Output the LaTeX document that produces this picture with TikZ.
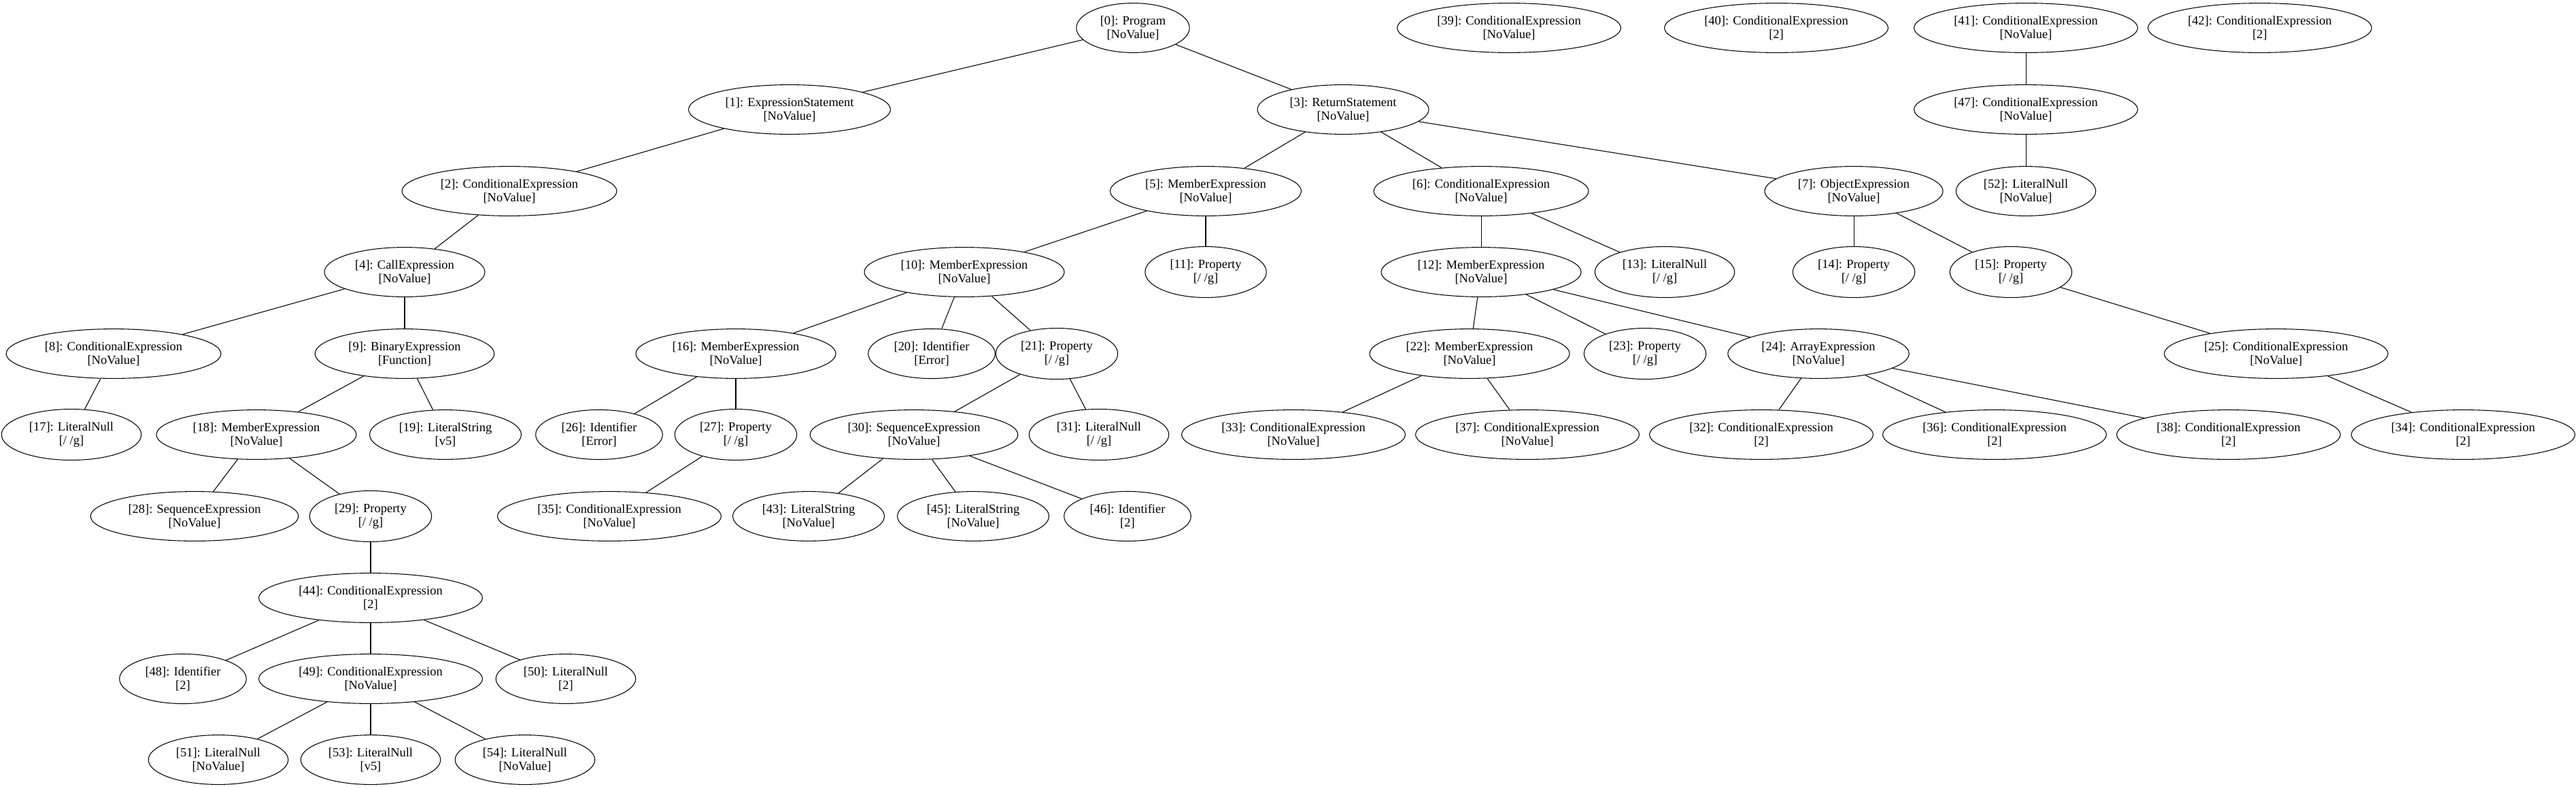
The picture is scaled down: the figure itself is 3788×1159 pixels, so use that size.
\documentclass[tikz,border=0pt]{standalone}
\usepackage{fontspec}
\setmainfont{Liberation Serif}
\usetikzlibrary{shapes.geometric}
\begin{document}
\begin{tikzpicture}[x=0.7576pt, y=-0.7576pt,
      astnode/.style={ellipse, draw, line width=.8pt, align=center, inner xsep=8pt, inner ysep=6pt,
        font=\fontsize{14}{15.4}\selectfont},
      astedge/.style={line width=.8pt}]
      \useasboundingbox(0, 0) rectangle (3788, 1159);

      \node[astnode] at(1666, 41)(n0){[0]: Program\\{}[NoValue]};
      \node[astnode] at(2219, 41)(n39){[39]: ConditionalExpression\\{}[NoValue]};
      \node[astnode] at(2612, 41)(n40){[40]: ConditionalExpression\\{}[2]};
      \node[astnode] at(2979, 41)(n41){[41]: ConditionalExpression\\{}[NoValue]};
      \node[astnode] at(3323, 41)(n42){[42]: ConditionalExpression\\{}[2]};

      \node[astnode] at(1161, 161)(n1){[1]: ExpressionStatement\\{}[NoValue]};
      \node[astnode] at(1975, 161)(n3){[3]: ReturnStatement\\{}[NoValue]};
      \node[astnode] at(2979, 161)(n47){[47]: ConditionalExpression\\{}[NoValue]};

      \node[astnode] at(749, 281)(n2){[2]: ConditionalExpression\\{}[NoValue]};
      \node[astnode] at(1773, 281)(n5){[5]: MemberExpression\\{}[NoValue]};
      \node[astnode] at(2178, 281)(n6){[6]: ConditionalExpression\\{}[NoValue]};
      \node[astnode] at(2726, 281)(n7){[7]: ObjectExpression\\{}[NoValue]};
      \node[astnode] at(2979, 281)(n52){[52]: LiteralNull\\{}[NoValue]};

      \node[astnode] at(595, 400)(n4){[4]: CallExpression\\{}[NoValue]};
      \node[astnode] at(1418, 400)(n10){[10]: MemberExpression\\{}[NoValue]};
      \node[astnode] at(1773, 400)(n11){[11]: Property\\{}[/ /g]};
      \node[astnode] at(2178, 400)(n12){[12]: MemberExpression\\{}[NoValue]};
      \node[astnode] at(2448, 400)(n13){[13]: LiteralNull\\{}[/ /g]};
      \node[astnode] at(2726, 400)(n14){[14]: Property\\{}[/ /g]};
      \node[astnode] at(2957, 400)(n15){[15]: Property\\{}[/ /g]};

      \node[astnode] at(167, 520)(n8){[8]: ConditionalExpression\\{}[NoValue]};
      \node[astnode] at(595, 520)(n9){[9]: BinaryExpression\\{}[Function]};
      \node[astnode] at(1082, 520)(n16){[16]: MemberExpression\\{}[NoValue]};
      \node[astnode] at(1370, 520)(n20){[20]: Identifier\\{}[Error]};
      \node[astnode] at(1554, 520)(n21){[21]: Property\\{}[/ /g]};
      \node[astnode] at(2161, 520)(n22){[22]: MemberExpression\\{}[NoValue]};
      \node[astnode] at(2419, 520)(n23){[23]: Property\\{}[/ /g]};
      \node[astnode] at(2674, 520)(n24){[24]: ArrayExpression\\{}[NoValue]};
      \node[astnode] at(3347, 520)(n25){[25]: ConditionalExpression\\{}[NoValue]};

      \node[astnode] at(105, 639)(n17){[17]: LiteralNull\\{}[/ /g]};
      \node[astnode] at(377, 639)(n18){[18]: MemberExpression\\{}[NoValue]};
      \node[astnode] at(655, 639)(n19){[19]: LiteralString\\{}[v5]};
      \node[astnode] at(881, 639)(n26){[26]: Identifier\\{}[Error]};
      \node[astnode] at(1082, 639)(n27){[27]: Property\\{}[/ /g]};
      \node[astnode] at(1344, 639)(n30){[30]: SequenceExpression\\{}[NoValue]};
      \node[astnode] at(1616, 639)(n31){[31]: LiteralNull\\{}[/ /g]};
      \node[astnode] at(1902, 639)(n33){[33]: ConditionalExpression\\{}[NoValue]};
      \node[astnode] at(2246, 639)(n37){[37]: ConditionalExpression\\{}[NoValue]};
      \node[astnode] at(2590, 639)(n32){[32]: ConditionalExpression\\{}[2]};
      \node[astnode] at(2933, 639)(n36){[36]: ConditionalExpression\\{}[2]};
      \node[astnode] at(3277, 639)(n38){[38]: ConditionalExpression\\{}[2]};
      \node[astnode] at(3622, 639)(n34){[34]: ConditionalExpression\\{}[2]};

      \node[astnode] at(286, 759)(n28){[28]: SequenceExpression\\{}[NoValue]};
      \node[astnode] at(545, 759)(n29){[29]: Property\\{}[/ /g]};
      \node[astnode] at(896, 759)(n35){[35]: ConditionalExpression\\{}[NoValue]};
      \node[astnode] at(1189, 759)(n43){[43]: LiteralString\\{}[NoValue]};
      \node[astnode] at(1431, 759)(n45){[45]: LiteralString\\{}[NoValue]};
      \node[astnode] at(1658, 759)(n46){[46]: Identifier\\{}[2]};

      \node[astnode] at(545, 879)(n44){[44]: ConditionalExpression\\{}[2]};

      \node[astnode] at(269, 998)(n48){[48]: Identifier\\{}[2]};
      \node[astnode] at(545, 998)(n49){[49]: ConditionalExpression\\{}[NoValue]};
      \node[astnode] at(832, 998)(n50){[50]: LiteralNull\\{}[2]};

      \node[astnode] at(321, 1117)(n51){[51]: LiteralNull\\{}[NoValue]};
      \node[astnode] at(545, 1117)(n53){[53]: LiteralNull\\{}[v5]};
      \node[astnode] at(772, 1117)(n54){[54]: LiteralNull\\{}[NoValue]};

      \draw[astedge](n0) to (n1);
      \draw[astedge](n0) to (n3);
      \draw[astedge](n1) to (n2);
      \draw[astedge](n2) to (n4);
      \draw[astedge](n4) to (n8);
      \draw[astedge](n4) to (n9);
      \draw[astedge](n8) to (n17);
      \draw[astedge](n9) to (n18);
      \draw[astedge](n9) to (n19);
      \draw[astedge](n18) to (n28);
      \draw[astedge](n18) to (n29);
      \draw[astedge](n29) to (n44);
      \draw[astedge](n44) to (n48);
      \draw[astedge](n44) to (n49);
      \draw[astedge](n44) to (n50);
      \draw[astedge](n49) to (n51);
      \draw[astedge](n49) to (n53);
      \draw[astedge](n49) to (n54);
      \draw[astedge](n3) to (n5);
      \draw[astedge](n3) to (n6);
      \draw[astedge](n3) to (n7);
      \draw[astedge](n5) to (n10);
      \draw[astedge](n5) to (n11);
      \draw[astedge](n10) to (n16);
      \draw[astedge](n10) to (n20);
      \draw[astedge](n10) to (n21);
      \draw[astedge](n16) to (n26);
      \draw[astedge](n16) to (n27);
      \draw[astedge](n27) to (n35);
      \draw[astedge](n21) to (n30);
      \draw[astedge](n21) to (n31);
      \draw[astedge](n30) to (n43);
      \draw[astedge](n30) to (n45);
      \draw[astedge](n30) to (n46);
      \draw[astedge](n6) to (n12);
      \draw[astedge](n6) to (n13);
      \draw[astedge](n12) to (n22);
      \draw[astedge](n12) to (n23);
      \draw[astedge](n12) to (n24);
      \draw[astedge](n22) to (n33);
      \draw[astedge](n22) to (n37);
      \draw[astedge](n24) to (n32);
      \draw[astedge](n24) to (n36);
      \draw[astedge](n24) to (n38);
      \draw[astedge](n7) to (n14);
      \draw[astedge](n7) to (n15);
      \draw[astedge](n15) to (n25);
      \draw[astedge](n25) to (n34);
      \draw[astedge](n41) to (n47);
      \draw[astedge](n47) to (n52);
      \end{tikzpicture}
\end{document}
